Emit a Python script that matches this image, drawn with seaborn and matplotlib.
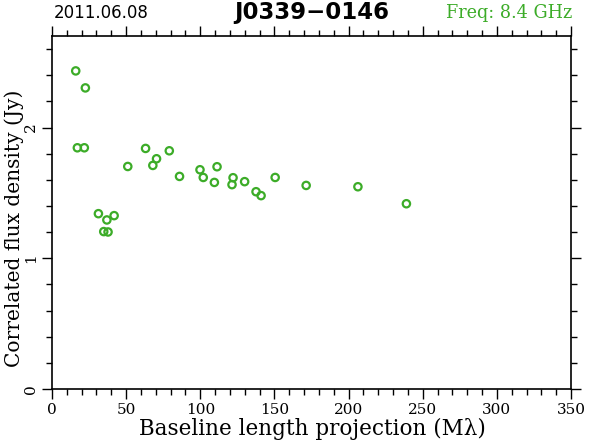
import matplotlib
matplotlib.use("Agg")
import matplotlib.pyplot as plt
import seaborn as sns
import pandas as pd
from matplotlib.ticker import MultipleLocator

baseline = [16.0, 22.5, 17.1, 21.8, 31.3, 37.0, 41.9, 34.9, 37.8, 51.1,
            63.1, 70.5, 68.0, 79.1, 86.0, 99.8, 102.0, 111.3, 109.5, 122.1,
            121.4, 129.9, 137.6, 141.0, 150.5, 171.4, 206.3, 239.0]
flux = [2.433, 2.303, 1.845, 1.845, 1.341, 1.293, 1.326, 1.204, 1.201, 1.702,
        1.840, 1.761, 1.710, 1.822, 1.626, 1.677, 1.618, 1.700, 1.580, 1.616,
        1.563, 1.586, 1.509, 1.479, 1.618, 1.557, 1.547, 1.417]

date_text = "2011.06.08"
source_name = "J0339\u22120146"
freq_text = "Freq: 8.4 GHz"
xlabel = "Baseline length projection (M\u03bb)"
ylabel = "Correlated flux density (Jy)"

green = "#3cac28"

sns.set_theme(style="white")
plt.rcParams['font.family'] = ['DejaVu Serif']
plt.rcParams['text.color'] = 'black'
plt.rcParams['axes.labelcolor'] = 'black'
plt.rcParams['xtick.color'] = 'black'
plt.rcParams['ytick.color'] = 'black'

df = pd.DataFrame({"baseline": baseline, "flux": flux})

fig = plt.figure(figsize=(5.9, 4.43), dpi=100)
ax = fig.add_axes([52/590, 54/443, 519/590, 353/443])

sns.scatterplot(data=df, x="baseline", y="flux", ax=ax, marker="o",
                s=28, facecolor="none", edgecolor=green, linewidth=1.6,
                legend=False)

ax.set_xlim(0, 350)
ax.set_ylim(0, 2.7)
ax.xaxis.set_major_locator(MultipleLocator(50))
ax.xaxis.set_minor_locator(MultipleLocator(10))
ax.yaxis.set_major_locator(MultipleLocator(1))
ax.yaxis.set_minor_locator(MultipleLocator(0.2))

for s in ax.spines.values():
    s.set_color("black")
    s.set_linewidth(1.2)

ax.tick_params(which="both", direction="out", color="black", labelcolor="black",
               top=True, right=True, bottom=True, left=True,
               labeltop=False, labelright=False)
ax.tick_params(which="major", length=7, width=1.0, labelsize=11, pad=3)
ax.tick_params(which="minor", length=4, width=1.0)
for lbl in ax.get_yticklabels():
    lbl.set_rotation(90)
    lbl.set_va("center")

ax.set_xlabel(xlabel, fontsize=15.5, color="black")
ax.set_ylabel(ylabel, fontsize=14.5, color="black")
ax.xaxis.set_label_coords((312.5 - 52)/519, -(435 - 389)/353)
ax.xaxis.label.set_va("baseline")
ax.yaxis.set_label_coords(-(52 - 14)/519, (389 - 228)/353)
ax.yaxis.label.set_va("center")

fig.text(54/590, 1 - 18/443, date_text, fontsize=12, ha="left", va="baseline",
         family="DejaVu Sans", color="black")
fig.text(312/590, 1 - 19/443, source_name, fontsize=16.5, fontweight="bold",
         ha="center", va="baseline", family="DejaVu Sans", color="black")
fig.text(572/590, 1 - 18/443, freq_text, fontsize=12.7, ha="right", va="baseline",
         color=green, family="DejaVu Serif")

fig.savefig("out.png", dpi=100)
